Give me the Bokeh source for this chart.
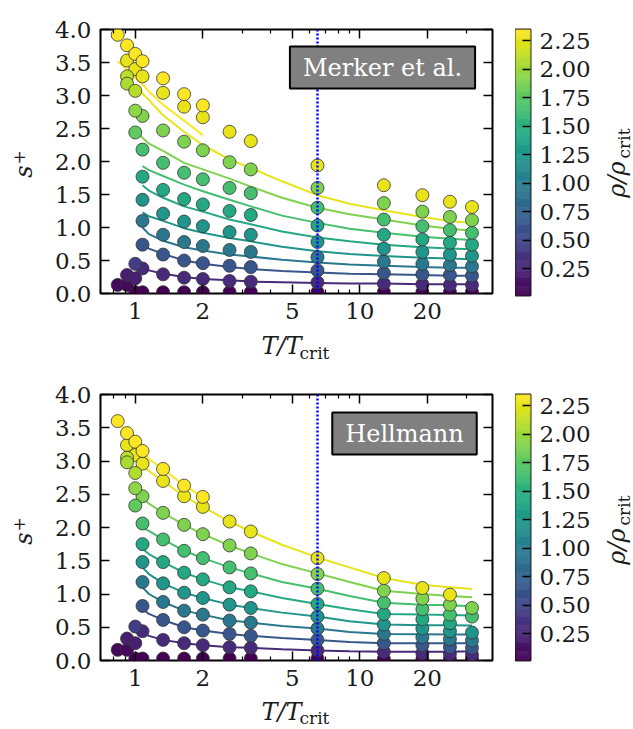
from bokeh.plotting import figure
from bokeh.models import (Range1d, LinearAxis, LogAxis, FixedTicker, Label, Span,
                          ColumnDataSource, PrintfTickFormatter, CustomJSTickFormatter)
from bokeh.layouts import row, column
from bokeh.palettes import Viridis256
from bokeh.transform import linear_cmap
from bokeh.embed import file_html
from bokeh.resources import INLINE

N = None
# ---------------- data ----------------
T_COLS = [0.835, 0.919, 1.0, 1.077, 1.33, 1.65, 2.0, 2.63, 3.27, 6.48, 12.8, 19.0, 25.2, 31.6]
RHO_LEVELS = [0.016, 0.30, 0.64, 0.95, 1.23, 1.42, 1.66, 1.90, 2.27, 2.35]
RHO_LOW, RHO_HIGH = 0.013, 2.35
T_MARK = 6.48
LINE_T = [0.835, 0.919, 1.0, 1.077, 1.15, 1.33, 1.65, 2.0, 2.63, 3.27, 4.5, 6.48, 9.0, 12.8, 19.0, 25.2, 31.6]

# Merker et al. points: rows = RHO_LEVELS, columns = T_COLS
merker_s = [
    [N, N, 0.02, 0.02, 0.02, 0.02, 0.02, 0.02, 0.02, 0.02, 0.02, 0.02, 0.02, 0.02],
    [N, N, N, 0.38, 0.29, 0.24, 0.22, 0.19, 0.18, 0.17, 0.15, 0.14, 0.13, 0.13],
    [N, N, N, 0.74, 0.59, 0.50, 0.46, 0.42, 0.40, 0.35, 0.31, 0.29, 0.28, 0.27],
    [N, N, N, 1.10, 0.89, 0.78, 0.72, 0.66, 0.63, 0.55, 0.48, 0.45, 0.43, 0.41],
    [N, N, N, 1.42, 1.21, 1.09, 1.02, 0.93, 0.89, 0.78, 0.68, 0.63, 0.59, 0.57],
    [N, N, N, 1.77, 1.57, 1.43, 1.35, 1.25, 1.19, 1.03, 0.89, 0.82, 0.77, 0.74],
    [N, N, N, 2.18, 1.98, 1.83, 1.73, 1.60, 1.52, 1.30, 1.12, 1.02, 0.96, 0.92],
    [N, N, N, 2.69, 2.47, 2.30, 2.17, 1.99, 1.88, 1.60, 1.37, 1.24, 1.16, 1.11],
    [N, 3.53, 3.40, 3.29, 3.04, 2.83, 2.67, 2.45, 2.31, 1.94, 1.64, 1.49, 1.39, 1.31],
    [3.92, 3.76, 3.63, 3.52, 3.26, 3.02, 2.85, N, N, N, N, N, N, N],
]
merker_extra_T = [0.919, 0.919, 1.0, 1.0, 1.0, 0.835, 0.919, 0.919, 1.0, 1.0]
merker_extra_s = [3.29, 3.18, 3.07, 2.77, 2.44, 0.13, 0.13, 0.28, 0.23, 0.45]
merker_extra_rho = [2.12, 2.05, 2.10, 1.95, 1.78, 0.06, 0.06, 0.20, 0.22, 0.45]

# Merker et al. model curves: rows = RHO_LEVELS[1:], columns = LINE_T
merker_lines = [
    [N, N, N, 0.40, 0.35, 0.30, 0.25, 0.22, 0.20, 0.18, 0.17, 0.16, 0.15, 0.15, 0.14, 0.14, 0.14],
    [N, N, N, 0.75, 0.68, 0.60, 0.50, 0.45, 0.40, 0.37, 0.34, 0.32, 0.30, 0.29, 0.28, 0.27, 0.27],
    [N, N, N, 1.00, 0.90, 0.80, 0.70, 0.65, 0.59, 0.56, 0.51, 0.47, 0.44, 0.42, 0.40, 0.39, 0.39],
    [N, N, N, 1.23, 1.17, 1.10, 0.99, 0.92, 0.84, 0.79, 0.71, 0.64, 0.60, 0.57, 0.54, 0.53, 0.52],
    [N, N, N, 1.64, 1.56, 1.45, 1.32, 1.24, 1.12, 1.05, 0.94, 0.85, 0.79, 0.74, 0.70, 0.68, 0.67],
    [N, N, N, 1.93, 1.87, 1.78, 1.65, 1.55, 1.42, 1.32, 1.18, 1.07, 0.98, 0.92, 0.86, 0.83, 0.81],
    [N, N, 2.47, 2.36, 2.27, 2.16, 1.98, 1.88, 1.74, 1.62, 1.45, 1.30, 1.20, 1.12, 1.03, 0.98, 0.95],
    [N, N, 3.15, 3.03, 2.93, 2.70, 2.45, 2.25, 2.03, 1.90, 1.70, 1.49, 1.36, 1.26, 1.16, 1.10, 1.07],
    [3.52, 3.39, 3.27, 3.17, 3.06, 2.86, 2.62, 2.40, N, N, N, N, N, N, N, N, N],
]

# Hellmann points
hellmann_s = [
    [N, N, 0.03, 0.03, 0.03, 0.03, 0.03, 0.03, 0.03, 0.03, 0.02, 0.02, 0.02, 0.02],
    [N, N, N, 0.44, 0.31, 0.26, 0.23, 0.20, 0.19, 0.15, 0.13, 0.11, 0.10, 0.09],
    [N, N, N, 0.82, 0.61, 0.50, 0.45, 0.40, 0.37, 0.31, 0.26, 0.23, 0.20, 0.19],
    [N, N, N, 1.18, 0.88, 0.75, 0.69, 0.60, 0.57, 0.48, 0.40, 0.35, 0.32, 0.30],
    [N, N, N, 1.48, 1.16, 1.02, 0.94, 0.84, 0.79, 0.66, 0.54, 0.48, 0.44, 0.42],
    [N, N, N, 1.75, 1.48, 1.32, 1.22, 1.10, 1.04, 0.85, 0.70, 0.62, 0.56, N],
    [N, N, N, 2.06, 1.82, 1.65, 1.54, 1.40, 1.31, 1.08, 0.87, 0.77, 0.69, 0.66],
    [N, N, N, 2.47, 2.22, 2.04, 1.90, 1.73, 1.61, 1.30, 1.05, 0.93, 0.84, 0.79],
    [N, 3.24, 3.09, 2.96, 2.70, 2.47, 2.31, 2.09, 1.94, 1.54, 1.24, 1.09, 0.99, N],
    [3.60, 3.42, 3.29, 3.15, 2.88, 2.63, 2.46, N, N, N, N, N, N, N],
]
hellmann_extra_T = [0.919, 0.919, 1.0, 1.0, 1.0, 0.835, 0.919, 0.919, 1.0, 1.0]
hellmann_extra_s = [3.05, 2.98, 2.82, 2.59, 2.33, 0.16, 0.16, 0.33, 0.26, 0.51]
hellmann_extra_rho = [2.12, 2.05, 2.08, 1.95, 1.78, 0.06, 0.06, 0.20, 0.22, 0.45]

hellmann_lines = [
    [N, N, N, 0.42, 0.37, 0.31, 0.26, 0.23, 0.20, 0.19, 0.17, 0.15, 0.14, 0.13, 0.13, 0.13, 0.14],
    [N, N, N, 0.78, 0.70, 0.61, 0.50, 0.45, 0.40, 0.37, 0.34, 0.31, 0.28, 0.26, 0.26, 0.26, 0.26],
    [N, N, N, 1.10, 1.00, 0.88, 0.75, 0.69, 0.60, 0.57, 0.52, 0.48, 0.43, 0.40, 0.395, 0.39, 0.39],
    [N, N, N, 1.40, 1.30, 1.16, 1.02, 0.94, 0.84, 0.79, 0.72, 0.66, 0.59, 0.54, 0.53, 0.53, 0.525],
    [N, N, N, 1.68, 1.60, 1.48, 1.32, 1.22, 1.10, 1.04, 0.94, 0.85, 0.77, 0.70, 0.69, 0.685, 0.675],
    [N, N, N, 2.00, 1.95, 1.82, 1.65, 1.54, 1.40, 1.31, 1.18, 1.08, 0.97, 0.87, 0.84, 0.83, 0.815],
    [N, N, 2.56, 2.45, 2.36, 2.22, 2.04, 1.90, 1.73, 1.61, 1.45, 1.31, 1.18, 1.05, 1.00, 0.97, 0.95],
    [N, 3.24, 3.09, 2.96, 2.85, 2.70, 2.47, 2.31, 2.09, 1.94, 1.74, 1.55, 1.40, 1.24, 1.14, 1.10, 1.075],
    [3.60, 3.42, 3.29, 3.15, 3.03, 2.88, 2.63, 2.46, N, N, N, N, N, N, N, N, N],
]

X_MAJOR = [1, 2, 5, 10, 20]
X_MINOR = [0.7, 0.8, 0.9, 3, 4, 6, 7, 8, 9, 30]
Y_TICKS = [0.0, 0.5, 1.0, 1.5, 2.0, 2.5, 3.0, 3.5, 4.0]
CB_TICKS = [0.25, 0.5, 0.75, 1.0, 1.25, 1.5, 1.75, 2.0, 2.25]

SERIF = "DejaVu Serif"
TICK_FS = "23px"
TXT = "#1a1a1a"

# layout sizes (pixels)
YL_W, MAIN_LB, FRAME_W, MAIN_RB, CB_W, CB_RB, RL_W = 40, 60, 392, 23, 15, 70, 33


def vcolor(rho):
    f = (rho - RHO_LOW) / (RHO_HIGH - RHO_LOW)
    f = min(max(f, 0.0), 1.0)
    return Viridis256[int(round(f * 255))]


def style_axis(ax, show_labels=True):
    ax.axis_line_color = None
    ax.major_tick_in = 9
    ax.major_tick_out = 0
    ax.minor_tick_in = 4
    ax.minor_tick_out = 0
    ax.major_tick_line_color = "black"
    ax.major_tick_line_width = 1.5
    ax.minor_tick_line_color = "black"
    ax.minor_tick_line_width = 1.2
    ax.major_label_text_font = SERIF
    if show_labels:
        ax.major_label_text_font_size = TICK_FS
        ax.major_label_text_color = TXT
    else:
        ax.major_label_text_font_size = "1px"
        ax.major_label_text_color = None
        ax.major_label_standoff = 0


def strip(w, h):
    f = figure(width=w, height=h, x_range=Range1d(0, w), y_range=Range1d(0, h),
               x_axis_location=None, y_axis_location=None, min_border=0,
               min_border_left=0, min_border_right=0, min_border_top=0, min_border_bottom=0,
               output_backend="svg", toolbar_location=None)
    f.grid.visible = False
    f.outline_line_color = None
    return f


def lab(fig, x, y, text, size, italic=False, angle=0, align="center"):
    fig.add_layout(Label(x=x, y=y, x_units="canvas", y_units="canvas", text=text,
                         text_font=SERIF, text_font_style="italic" if italic else "normal",
                         text_font_size=size, angle=angle, angle_units="deg",
                         text_align=align, text_baseline="middle", text_color=TXT))


def make_panel(s_rows, ex_T, ex_s, ex_rho, line_rows, box_text, box_xy, top_b, frame_h, bottom_b):
    p = figure(x_axis_type="log", x_range=Range1d(0.7, 39.0), y_range=Range1d(0.0, 4.0),
               frame_width=FRAME_W, frame_height=frame_h,
               min_border_left=MAIN_LB, min_border_right=MAIN_RB,
               min_border_top=top_b, min_border_bottom=bottom_b,
               output_backend="svg", toolbar_location=None)
    p.grid.visible = False
    p.outline_line_color = "black"
    p.outline_line_width = 2

    p.xaxis[0].ticker = FixedTicker(ticks=X_MAJOR, minor_ticks=X_MINOR)
    p.xaxis[0].formatter = CustomJSTickFormatter(code="return String(Math.round(tick));")
    style_axis(p.xaxis[0])
    p.xaxis[0].major_label_standoff = 9
    p.yaxis[0].ticker = FixedTicker(ticks=Y_TICKS, minor_ticks=[])
    p.yaxis[0].formatter = PrintfTickFormatter(format="%.1f")
    style_axis(p.yaxis[0])
    p.yaxis[0].major_label_standoff = 9
    top_ax = LogAxis(ticker=FixedTicker(ticks=X_MAJOR, minor_ticks=X_MINOR))
    style_axis(top_ax, show_labels=False)
    p.add_layout(top_ax, "above")
    right_ax = LinearAxis(ticker=FixedTicker(ticks=Y_TICKS, minor_ticks=[]))
    style_axis(right_ax, show_labels=False)
    p.add_layout(right_ax, "right")

    for lvl, vals in zip(RHO_LEVELS[1:], line_rows):
        xs = [t for t, v in zip(LINE_T, vals) if v is not None]
        ys = [v for v in vals if v is not None]
        p.line(xs, ys, line_color=vcolor(lvl), line_width=2)

    T, S, R = [], [], []
    for lvl, vals in zip(RHO_LEVELS, s_rows):
        for t, v in zip(T_COLS, vals):
            if v is not None:
                T.append(t); S.append(v); R.append(lvl)
    T += ex_T; S += ex_s; R += ex_rho
    src = ColumnDataSource(dict(T=T, s=S, rho=R))
    p.scatter("T", "s", source=src, size=13,
              fill_color=linear_cmap("rho", Viridis256, RHO_LOW, RHO_HIGH),
              line_color="#333333", line_width=0.8)

    p.add_layout(Span(location=T_MARK, dimension="height", line_color="#0000ff",
                      line_width=2.5, line_dash="2 2"))

    p.add_layout(Label(x=box_xy[0], y=box_xy[1], x_units="canvas", y_units="canvas",
                       text=box_text, text_font=SERIF, text_font_size="24px",
                       text_color="white", text_align="center", text_baseline="middle",
                       background_fill_color="#808080", border_line_color="black",
                       border_line_width=2, padding=(13, 7)))
    return p


def make_cbar(top_b, frame_h, bottom_b):
    cb = figure(x_range=Range1d(0, 1), y_range=Range1d(RHO_LOW, RHO_HIGH),
                frame_width=CB_W, frame_height=frame_h,
                min_border_left=0, min_border_right=CB_RB,
                min_border_top=top_b, min_border_bottom=bottom_b,
                x_axis_location=None, y_axis_location="right",
                output_backend="svg", toolbar_location=None)
    cb.grid.visible = False
    step = (RHO_HIGH - RHO_LOW) / len(Viridis256)
    bottoms = [RHO_LOW + i * step for i in range(len(Viridis256))]
    tops = [b + step * 1.02 for b in bottoms]
    cb.quad(left=0, right=1, bottom=bottoms, top=tops, fill_color=list(Viridis256),
            line_color=list(Viridis256), line_width=0.5)
    cb.outline_line_color = "#222222"
    cb.outline_line_width = 2
    ax = cb.yaxis[0]
    ax.ticker = FixedTicker(ticks=CB_TICKS, minor_ticks=[])
    ax.formatter = PrintfTickFormatter(format="%.2f")
    ax.axis_line_color = None
    ax.major_tick_in = 8
    ax.major_tick_out = 0
    ax.major_tick_line_color = "black"
    ax.major_tick_line_width = 1.5
    ax.minor_tick_line_color = None
    ax.major_label_text_font = SERIF
    ax.major_label_text_font_size = TICK_FS
    ax.major_label_text_color = TXT
    ax.major_label_standoff = 9
    return cb


# ---- row 1 (Merker et al.) ----
H1 = 29 + 264 + 38
p1 = make_panel(merker_s, merker_extra_T, merker_extra_s, merker_extra_rho, merker_lines,
                "Merker et al.", (342, 67), 29, 264, 38)
c1 = make_cbar(29, 266, H1 - 29 - 266)
yl1 = strip(YL_W, H1)
lab(yl1, 23, 171, "s", "24px", italic=True, angle=90)
lab(yl1, 18, 157, "+", "17px", angle=90)
rl1 = strip(RL_W, H1)
lab(rl1, 16, 179, "ρ/ρ", "24px", italic=True, angle=90)
lab(rl1, 23, 143, "crit", "17px", angle=90)
xl1 = strip(633, 33)
lab(xl1, 281, 14, "T/T", "24px", italic=True)
lab(xl1, 299, 21, "crit", "17px", align="left")

# ---- row 2 (Hellmann) ----
H2 = 30 + 266 + 38
p2 = make_panel(hellmann_s, hellmann_extra_T, hellmann_extra_s, hellmann_extra_rho, hellmann_lines,
                "Hellmann", (364, 69), 30, 266, 38)
c2 = make_cbar(30, 266, 38)
yl2 = strip(YL_W, H2)
lab(yl2, 23, 174, "s", "24px", italic=True, angle=90)
lab(yl2, 18, 160, "+", "17px", angle=90)
rl2 = strip(RL_W, H2)
lab(rl2, 16, 182, "ρ/ρ", "24px", italic=True, angle=90)
lab(rl2, 23, 146, "crit", "17px", angle=90)
xl2 = strip(633, 31)
lab(xl2, 281, 13, "T/T", "24px", italic=True)
lab(xl2, 299, 19, "crit", "17px", align="left")

layout = column(row(yl1, p1, c1, rl1), xl1, row(yl2, p2, c2, rl2), xl2)
open("out.html", "w").write(file_html(layout, INLINE))
